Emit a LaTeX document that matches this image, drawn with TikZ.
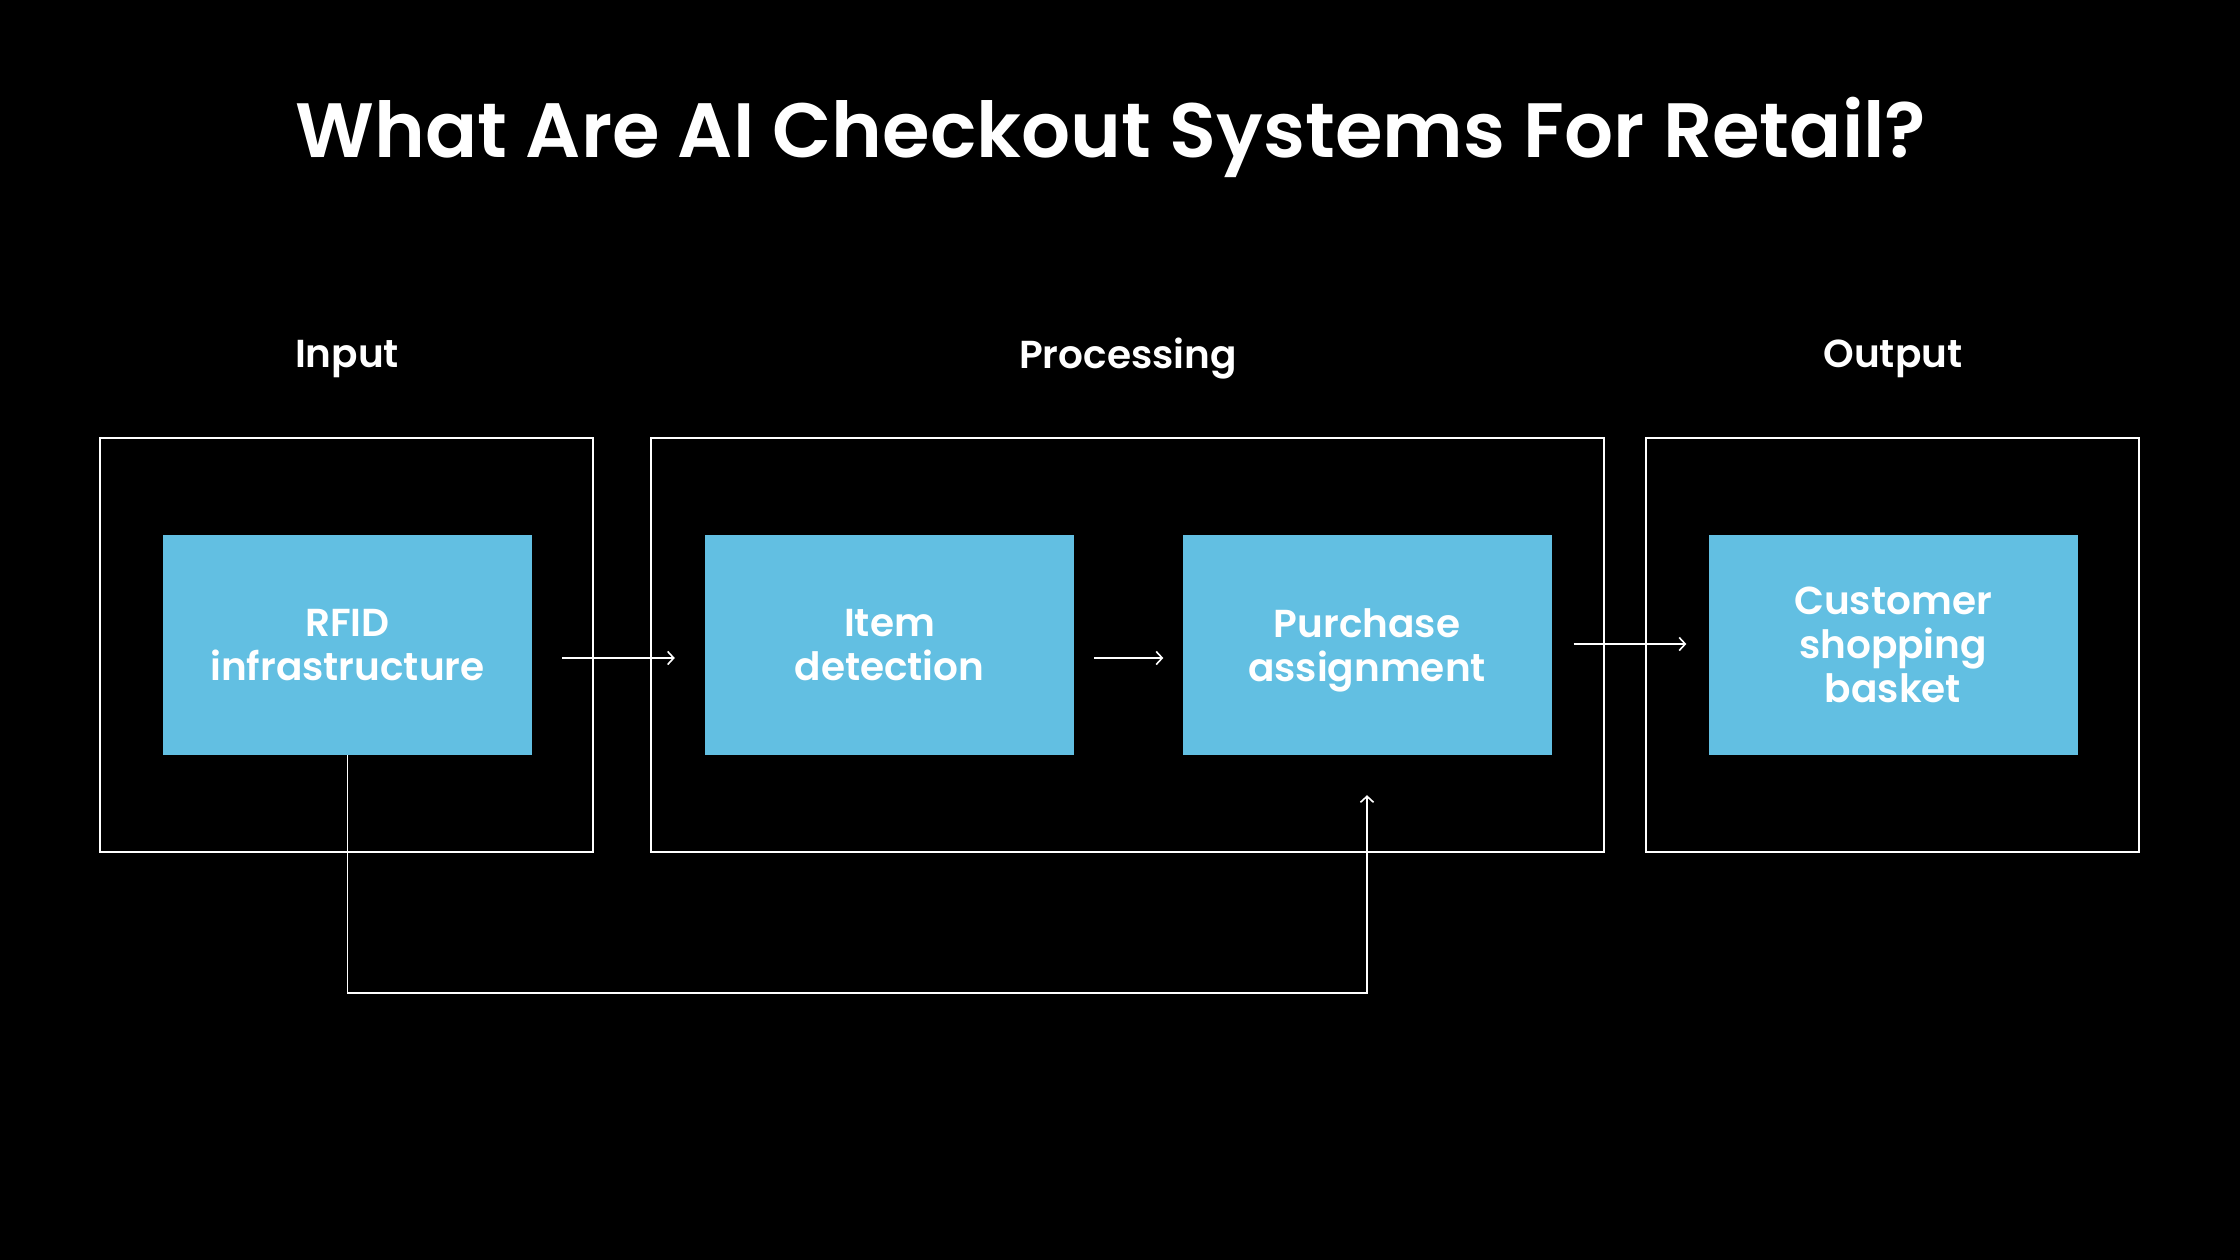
\documentclass[tikz,border=0pt]{standalone}
\usepackage{fontspec}
\setmainfont{Poppins}[BoldFont={Poppins SemiBold}]
\usetikzlibrary{arrows.meta,calc}
\definecolor{boxblue}{RGB}{98,191,226}
\tikzset{
  outerbox/.style={draw=white,line width=1.2pt,minimum width=493pt,minimum height=414pt,inner sep=0pt},
  bluebox/.style={fill=boxblue,minimum width=369pt,minimum height=220pt,inner sep=0pt,text=white,align=center,font=\fontsize{39}{44}\selectfont\bfseries},
  grouplabel/.style={text=white,font=\fontsize{39}{44}\selectfont\bfseries},
  conn/.style={draw=white,line width=1.6pt,-{Straight Barb[length=6pt,width=13pt,line width=1.6pt]}}
}
\begin{document}
\begin{tikzpicture}[x=1pt,y=-1pt]
\fill[black] (0,0) rectangle (2240,1260);
\useasboundingbox (0,0) rectangle (2240,1260);
\node[text=white,font=\fontsize{77}{90}\selectfont\bfseries] (title) at (1111,137) {What Are AI Checkout Systems For Retail?};
\node[grouplabel] (linput) at (347,359) {Input};
\node[grouplabel] (lproc) at (1128,359) {Processing};
\node[grouplabel] (lout) at (1893,359) {Output};
\node[outerbox] (ginput) at (346.5,645) {};
\node[outerbox,minimum width=953pt] (gproc) at (1127.5,645) {};
\node[outerbox] (gout) at (1892.5,645) {};
\node[bluebox] (rfid) at (347.5,645) {RFID\\infrastructure};
\node[bluebox] (item) at (889.5,645) {Item\\detection};
\node[bluebox] (purch) at (1367,645) {Purchase\\\smash{assignment}};
\node[bluebox] (cust) at (1893,645) {Customer\\shopping\\basket};
\coordinate (a1s) at ($(rfid.east)+(30,13)$);
\coordinate (a1e) at ($(item.west)+(-30,13)$);
\draw[conn] (a1s) -- (a1e);
\coordinate (a2s) at ($(item.east)+(20,13)$);
\coordinate (a2e) at ($(purch.west)+(-19,13)$);
\draw[conn] (a2s) -- (a2e);
\coordinate (a3s) at ($(purch.east)+(22,-1)$);
\coordinate (a3e) at ($(cust.west)+(-22,-1)$);
\draw[conn] (a3s) -- (a3e);
\coordinate (fbend) at ($(purch.south)+(0,40)$);
\draw[conn] (rfid.south) -- ++(0,238) -| (fbend);
\end{tikzpicture}
\end{document}
